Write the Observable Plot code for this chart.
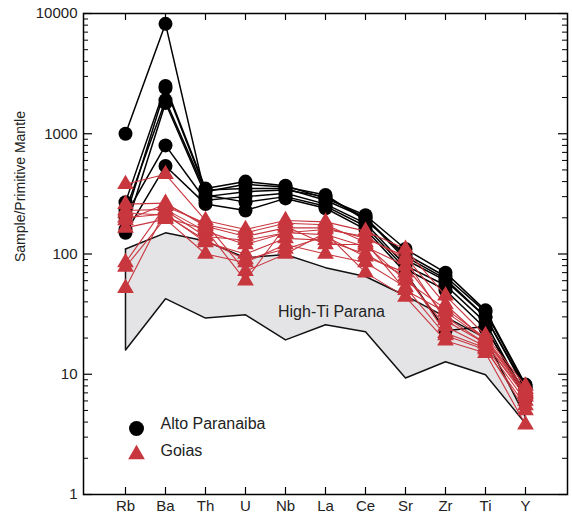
<!DOCTYPE html>
<html><head><meta charset="utf-8">
<script src="https://cdn.jsdelivr.net/npm/d3@7"></script>
<script src="https://cdn.jsdelivr.net/npm/@observablehq/plot@0.6"></script>
<style>
body{margin:0;background:#fff;font-family:"Liberation Sans",Arial,Helvetica,sans-serif}
#chart svg{display:block}
</style>
</head><body><div id="chart"></div>
<script>
// Element order (x axis)
const elements = ["Rb","Ba","Th","U","Nb","La","Ce","Sr","Zr","Ti","Y"];

// Alto Paranaiba samples (sample / primitive mantle)
const alto1 = [1000, 8200, 300, 330, 340, 300, 200, 90, 60, 30, 7.5];
const alto2 = [270, 2500, 350, 400, 370, 290, 210, 110, 70, 34, 8.2];
const alto3 = [230, 1900, 330, 380, 360, 310, 190, 100, 65, 33, 8.0];
const alto4 = [210, 800, 280, 300, 320, 260, 180, 80, 55, 27, 6.5];
const alto5 = [150, 540, 260, 230, 290, 240, 160, 70, 23, 25, 6.2];
const alto6 = [160, 1800, 310, 270, 300, 250, 170, 75, 50, 24, 7.0];
const alto7 = [200, 2400, 340, 350, 350, 280, 200, 95, 62, 30, 7.8];

// Goias samples
const goias1 = [380, 460, 190, 160, 190, 185, 155, 110, 45, 21, 8.0];
const goias2 = [260, 265, 170, 140, 165, 165, 135, 95, 38, 19, 7.0];
const goias3 = [230, 235, 155, 120, 150, 145, 115, 80, 30, 18, 6.5];
const goias4 = [200, 215, 125, 100, 135, 130, 100, 65, 25, 17, 6.0];
const goias5 = [165, 195, 100, 85, 120, 100, 85, 53, 21, 16, 5.5];
const goias6 = [85, 250, 180, 72, 100, 150, 70, 44, 19, 15, 3.8];
const goias7 = [78, 200, 160, 60, 170, 120, 120, 60, 35, 20, 7.5];
const goias8 = [52, 230, 140, 130, 150, 160, 140, 90, 28, 18, 6.8];
const goias9 = [220, 210, 130, 90, 110, 140, 95, 70, 22, 16.5, 5.0];
const goias10 = [190, 260, 175, 150, 180, 175, 125, 50, 33, 19.5, 7.2];

// High-Ti Parana field (upper and lower envelopes)
const paranaUpper = [110, 150, 128, 93, 99, 77, 65, 45, 30, 20, 4.4];
const paranaLower = [15.9, 42.5, 29.3, 31.2, 19.3, 25.8, 22.6, 9.3, 12.7, 9.9, 3.9];

// Axis ticks
const yTicks = [1, 10, 100, 1000, 10000];
const yMinorTicks = yTicks.slice(0, -1).flatMap(d => [2,3,4,5,6,7,8,9].map(m => m * d));

const seriesAlto = [alto1, alto2, alto3, alto4, alto5, alto6, alto7];
const seriesGoias = [goias1, goias2, goias3, goias4, goias5, goias6, goias7, goias8, goias9, goias10];

const tidy = (list, name) => list.flatMap((arr, k) =>
  arr.map((v, i) => ({sample: name + (k + 1), el: elements[i], v})));
const altoData = tidy(seriesAlto, "A");
const goiasData = tidy(seriesGoias, "G");
const band = elements.map((el, i) => ({el, lo: paranaLower[i], hi: paranaUpper[i]}));

const W = 572, H = 516, mL = 83, mR = 5, mT = 13, mB = 22;
const fw = W - mL - mR, fh = H - mT - mB;
const red = "#c8363e";

const chart = Plot.plot({
  width: W, height: H,
  marginLeft: mL, marginRight: mR, marginTop: mT, marginBottom: mB,
  style: {fontFamily: '"Liberation Sans", Arial, sans-serif', fontSize: "15px", color: "#222", background: "#fff"},
  x: {type: "point", domain: elements, padding: 0.96, label: null},
  y: {type: "log", domain: [1, 10000], label: null},
  marks: [
    // High-Ti Parana field
    Plot.areaY(band, {x: "el", y1: "lo", y2: "hi", fill: "#e4e4e6"}),
    Plot.line(band, {x: "el", y: "hi", stroke: "#111", strokeWidth: 1.5}),
    Plot.line(band, {x: "el", y: "lo", stroke: "#111", strokeWidth: 1.5}),
    Plot.ruleX([band[0], band[band.length - 1]], {x: "el", y1: "lo", y2: "hi", stroke: "#111", strokeWidth: 1.5}),
    Plot.text(["High-Ti Parana"], {x: () => "La", y: () => 33, text: d => d, dx: 6, fontSize: 16, fill: "#222"}),
    // Alto Paranaiba
    Plot.line(altoData, {x: "el", y: "v", z: "sample", stroke: "#000", strokeWidth: 1.5}),
    Plot.dot(altoData, {x: "el", y: "v", r: 7, fill: "#000"}),
    // Goias
    Plot.line(goiasData, {x: "el", y: "v", z: "sample", stroke: red, strokeWidth: 1.1}),
    Plot.dot(goiasData, {x: "el", y: "v", symbol: "triangle", r: 6.2, fill: red}),
    // Frame and inward ticks
    Plot.frame({stroke: "#000", strokeWidth: 1.5}),
    Plot.tickY(yTicks, {y: d => d, insetRight: fw - 9, stroke: "#000", strokeWidth: 1.2}),
    Plot.tickY(yMinorTicks, {y: d => d, insetRight: fw - 5, stroke: "#000", strokeWidth: 1}),
    Plot.tickY(yTicks, {y: d => d, insetLeft: fw - 9, stroke: "#000", strokeWidth: 1.2}),
    Plot.tickY(yMinorTicks, {y: d => d, insetLeft: fw - 5, stroke: "#000", strokeWidth: 1}),
    Plot.tickX(elements, {x: d => d, insetTop: fh - 7, stroke: "#000", strokeWidth: 1.2}),
    Plot.tickX(elements, {x: d => d, insetBottom: fh - 7, stroke: "#000", strokeWidth: 1.2}),
    Plot.axisY({ticks: yTicks, tickFormat: d3.format("d"), tickSize: 0, tickPadding: 6, label: null}),
    Plot.axisX({tickSize: 0, tickPadding: 6, label: null}),
    Plot.text(["Sample/Primitive Mantle"], {x: null, y: null, text: d => d, frameAnchor: "left", rotate: -90, dx: -63, dy: 8, fontSize: 14, fill: "#222"}),
    // Legend
    Plot.dot(["Alto Paranaiba"], {x: null, y: null, frameAnchor: "bottom-left", dx: 53, dy: -66, r: 7.5, fill: "#000"}),
    Plot.dot(["Goias"], {x: null, y: null, frameAnchor: "bottom-left", dx: 53, dy: -40, r: 6.2, symbol: "triangle", fill: red}),
    Plot.text(["Alto Paranaiba"], {x: null, y: null, text: d => d, frameAnchor: "bottom-left", dx: 77, dy: -66, textAnchor: "start", fontSize: 16, fill: "#222"}),
    Plot.text(["Goias"], {x: null, y: null, text: d => d, frameAnchor: "bottom-left", dx: 77, dy: -39, textAnchor: "start", fontSize: 16, fill: "#222"})
  ]
});
document.getElementById("chart").appendChild(chart);
</script>
</body></html>
